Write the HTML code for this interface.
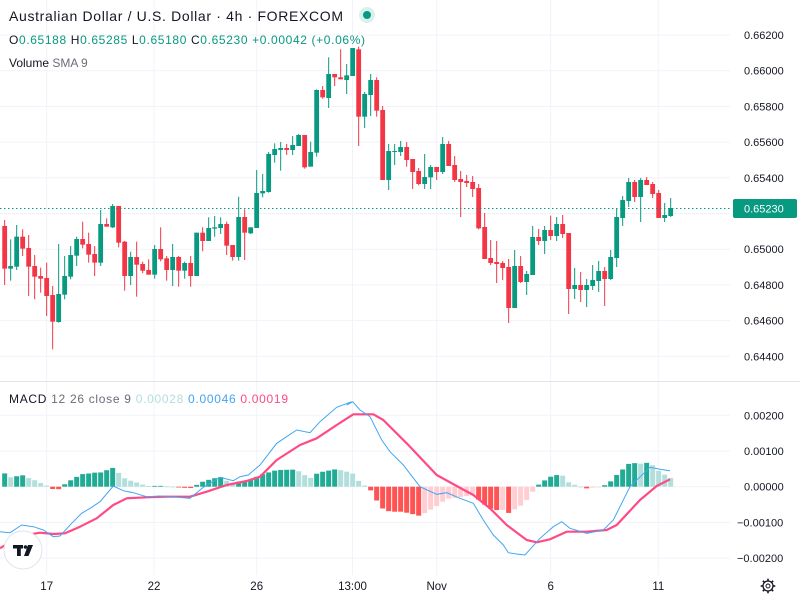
<!DOCTYPE html>
<html><head><meta charset="utf-8"><style>
html,body{margin:0;padding:0;background:#fff;}
svg{display:block;font-family:"Liberation Sans",sans-serif;}
</style></head><body>
<svg id="s" width="800" height="600" xmlns="http://www.w3.org/2000/svg"></svg>
<script>
const S=document.getElementById('s');let h='';
// grid
const hy=[35,70.7,106.4,142.1,177.8,213.5,249.2,284.9,320.6,356.3];
hy.forEach(y=>h+=`<line x1="0" x2="730" y1="${y}" y2="${y}" stroke="#f0f3fa"/>`);
[415.3,451,486.7,522.4,558].forEach(y=>h+=`<line x1="0" x2="730" y1="${y}" y2="${y}" stroke="#f0f3fa"/>`);
const vx=[46.7,154,256.7,352.5,436.7,550.7,658.3];
vx.forEach(x=>h+=`<line x1="${x}" x2="${x}" y1="0" y2="575" stroke="#f0f3fa"/>`);
h+=`<line x1="0" x2="800" y1="381.5" y2="381.5" stroke="#e0e3eb"/>`;
// candles [c, bt, bb, wt, wb] zoom coords (y_full=40+y/3)
const C=[
['r',558,686,540,735],['g',678,686,598,722],['g',590,680,555,690],['r',590,626,568,648],['r',624,680,585,768],
['r',678,710,645,778],['r',708,716,683,758],['r',714,768,668,828],['r',765,845,738,928],['g',762,846,612,848],
['g',708,764,648,778],['g',645,710,618,718],['g',597,647,590,678],['r',597,614,545,625],['r',612,644,578,668],
['r',642,668,618,708],['g',552,668,510,678],['r',552,560,535,560],['g',498,562,492,564],['r',498,608,498,622],
['r',605,708,603,752],['g',651,708,635,735],['r',651,674,605,770],['r',672,692,665,700],['r',690,704,658,704],
['g',627,704,615,716],['r',627,658,562,664],['r',655,690,648,722],['g',651,690,612,738],['r',651,692,648,740],
['g',669,692,665,716],['r',669,708,648,740],['g',578,708,578,708],['r',578,603,562,634],['g',564,603,532,603],
['g',562,566,528,590],['g',552,564,532,582],['r',552,617,545,645],['r',615,651,615,662],['g',531,651,470,662],
['r',531,578,508,660],['g',562,580,562,582],['g',459,564,390,564],['g',453,460,402,472],['g',342,456,336,458],
['g',327,345,310,368],['g',324,330,306,392],['r',324,330,312,345],['g',315,330,288,345],['g',285,318,282,318],
['r',285,382,285,386],['g',336,380,305,380],['g',150,338,148,350],['r',150,172,138,176],['g',102,174,52,204],
['r',102,112,102,138],['r',112,118,28,118],['g',106,120,72,162],['g',24,108,24,108],['r',28,230,20,318],
['g',162,230,156,264],['g',120,165,102,228],['r',120,212,112,230],['r',210,420,198,420],['g',333,420,312,450],
['g',333,336,312,375],['g',321,336,303,348],['r',321,360,306,380],['r',357,396,357,447],['r',393,432,384,436],
['g',411,432,342,447],['g',381,412,375,447],['r',381,396,381,420],['g',312,396,291,402],['r',312,378,303,378],
['r',375,420,348,426],['r',417,426,393,531],['r',423,429,405,441],['r',426,447,408,471],['r',444,565,432,568],
['r',561,657,519,657],['r',654,669,600,675],['r',666,672,603,729],['r',669,684,663,720],['r',681,804,657,849],
['g',678,804,630,804],['r',678,726,648,729],['g',702,726,693,765],['g',591,705,558,705],['r',591,603,567,615],
['g',570,603,558,642],['r',570,588,527,600],['g',552,588,531,603],['r',552,582,525,594],['r',579,747,579,822],
['g',735,747,684,777],['r',735,750,696,786],['g',735,750,717,801],['g',720,738,675,750],['g',693,723,663,756],
['r',693,717,681,798],['g',651,717,630,720],['g',531,654,507,681],['g',480,534,468,558],['g',426,483,414,501],
['r',426,471,420,486],['g',420,471,414,546],['r',420,435,411,435],['r',432,462,426,474],['r',459,534,450,534],
['g',525,534,489,546],['g',504,528,474,531]];
const Y=v=>40+v/3;
C.forEach((c,i)=>{const x=4.67+6*i;const col=c[0]=='g'?'#089981':'#f23645';
h+=`<line x1="${x}" x2="${x}" y1="${Y(c[3])}" y2="${Y(c[4])}" stroke="${col}" stroke-width="1"/>`;
const t=Y(c[1]),b=Y(c[2]);h+=`<rect x="${x-2.4}" y="${t}" width="4.8" height="${Math.max(b-t,1)}" fill="${col}"/>`;});
// price line
h+=`<line x1="0" x2="730" y1="208.5" y2="208.5" stroke="#089981" stroke-dasharray="1.5,2.5"/>`;
// MACD lines: zoom pts
const bl1=[[0,455],[30,458],[65,435],[100,440],[130,450],[160,470],[180,468],[215,430],[245,400],[275,382],[300,365],[340,318],[370,332],[400,338],[440,350],[480,348],[520,350],[570,355],[610,322],[660,292],[700,302],[720,290],[745,285],[780,255],[830,190],[890,150],[930,158],[960,125],[1010,82],[1055,65]];
const bl2=[[20,75],[38,65],[60,90],[90,110],[125,180],[150,215],[190,255],[240,320],[290,343],[320,338],[360,355],[400,370],[430,420],[460,465],[490,495],[505,518],[530,522],[555,525],[600,475],[640,440],[665,425],[690,445],[740,460],[790,450],[820,420],[870,320],[930,262],[960,268],[990,272]];
const rl1=[[0,505],[40,480],[80,465],[120,458],[160,462],[195,460],[240,440],[290,415],[340,375],[380,355],[440,352],[500,350],[570,350],[620,335],[680,315],[740,303],[780,290],[830,240],[900,195],[950,175],[1010,135],[1060,103]];
const rl2=[[40,103],[100,103],[130,120],[200,190],[290,285],[350,318],[400,345],[450,385],[500,435],[560,480],[590,487],[630,478],[680,455],[740,455],[800,450],[830,435],[900,360],[950,318],[990,298]];
const cv=(a,b)=>a.map(p=>[p[0]/3,380+p[1]/3]).concat(b.map(p=>[340+p[0]/3,380+p[1]/3]));
const B=cv(bl1,bl2),R=cv(rl1,rl2);
const it=(P,x)=>{for(let i=1;i<P.length;i++){if(x<=P[i][0]){const a=P[i-1],b=P[i];return a[1]+(b[1]-a[1])*(x-a[0])/(b[0]-a[0]);}}return P[P.length-1][1];};
// histogram
let prev=null;const Z=486.7;
for(let i=0;i<112;i++){const x=4.67+6*i;const d=(it(R,x)-it(B,x));// positive = macd above
let col;if(d>=0)col=(prev!==null&&d<prev)?'#b2dfdb':'#22ab94';else col=(prev!==null&&d<prev)?'#ff5252':'#ffcdd2';
prev=d;const hh=Math.abs(d);h+=`<rect x="${x-2.5}" y="${d>=0?Z-hh:Z}" width="5" height="${Math.max(hh,0.8)}" fill="${col}"/>`;}
const pl=P=>P.map(p=>p[0].toFixed(1)+','+p[1].toFixed(1)).join(' ');
h+=`<polyline points="${pl(R)}" fill="none" stroke="#ff4a84" stroke-width="2.2" stroke-linejoin="round"/>`;
h+=`<polyline points="${pl(B)}" fill="none" stroke="#42a5f5" stroke-width="1"/>`;
// axis labels
const pv=['0.66200','0.66000','0.65800','0.65600','0.65400',null,'0.65000','0.64800','0.64600','0.64400'];
pv.forEach((v,i)=>{if(v)h+=`<text x="744" y="${hy[i]+4}" font-size="11" fill="#131722">${v}</text>`;});
h+=`<rect x="733" y="199" width="64" height="19" rx="2" fill="#089981"/><text x="744" y="212.5" font-size="11" fill="#fff">0.65230</text>`;
[['0.00200',415.3],['0.00100',451],['0.00000',486.7],['−0.00100',522.4],['−0.00200',558]].forEach(a=>h+=`<text x="${a[0][0]=='−'?737:744}" y="${a[1]+4}" font-size="11" fill="#131722">${a[0]}</text>`);
[['17',46.7],['22',154],['26',256.7],['13:00',352.5],['Nov',436.7],['6',550.7],['11',658.3]].forEach(a=>h+=`<text x="${a[1]}" y="590" font-size="11.5" fill="#131722" text-anchor="middle">${a[0]}</text>`);
// gear
h+=`<circle cx="768" cy="586" r="5" fill="none" stroke="#131722" stroke-width="1.3"/><circle cx="768" cy="586" r="2" fill="none" stroke="#131722" stroke-width="1"/>`;
for(let k=0;k<8;k++){const a=k*Math.PI/4;h+=`<line x1="${768+5*Math.cos(a)}" y1="${586+5*Math.sin(a)}" x2="${768+7.3*Math.cos(a)}" y2="${586+7.3*Math.sin(a)}" stroke="#131722" stroke-width="1.6"/>`;}
// headers
h+=`<text x="9" y="21" font-size="14" fill="#131722" textLength="334">Australian Dollar / U.S. Dollar · 4h · FOREXCOM</text>`;
h+=`<circle cx="367" cy="15" r="8" fill="#d9f0ec"/><circle cx="367" cy="15" r="4" fill="#089981"/>`;
h+=`<text x="9" y="44" font-size="12" textLength="356"><tspan fill="#131722">O</tspan><tspan fill="#089981">0.65188 </tspan><tspan fill="#131722">H</tspan><tspan fill="#089981">0.65285 </tspan><tspan fill="#131722">L</tspan><tspan fill="#089981">0.65180 </tspan><tspan fill="#131722">C</tspan><tspan fill="#089981">0.65230 +0.00042 (+0.06%)</tspan></text>`;
h+=`<text x="9" y="67" font-size="12" fill="#131722">Volume <tspan fill="#6a6d78">SMA 9</tspan></text>`;
h+=`<text x="9" y="403" font-size="12" textLength="279"><tspan fill="#131722">MACD </tspan><tspan fill="#6a6d78">12 26 close 9 </tspan><tspan fill="#b2dfdb">  0.00028 </tspan><tspan fill="#42a5f5">0.00046 </tspan><tspan fill="#ff4a84">0.00019</tspan></text>`;
// TV logo
h+=`<circle cx="23" cy="550" r="19" fill="#fff" stroke="#e0e3eb"/><rect x="13" y="545" width="10" height="3.5" fill="#131722"/><rect x="17" y="545" width="3.8" height="11" fill="#131722"/><circle cx="25.5" cy="547" r="1.8" fill="#131722"/><polygon points="28,545 33,545 28.5,556 24,556" fill="#131722"/>`;
S.innerHTML=h;
</script>
</body></html>
